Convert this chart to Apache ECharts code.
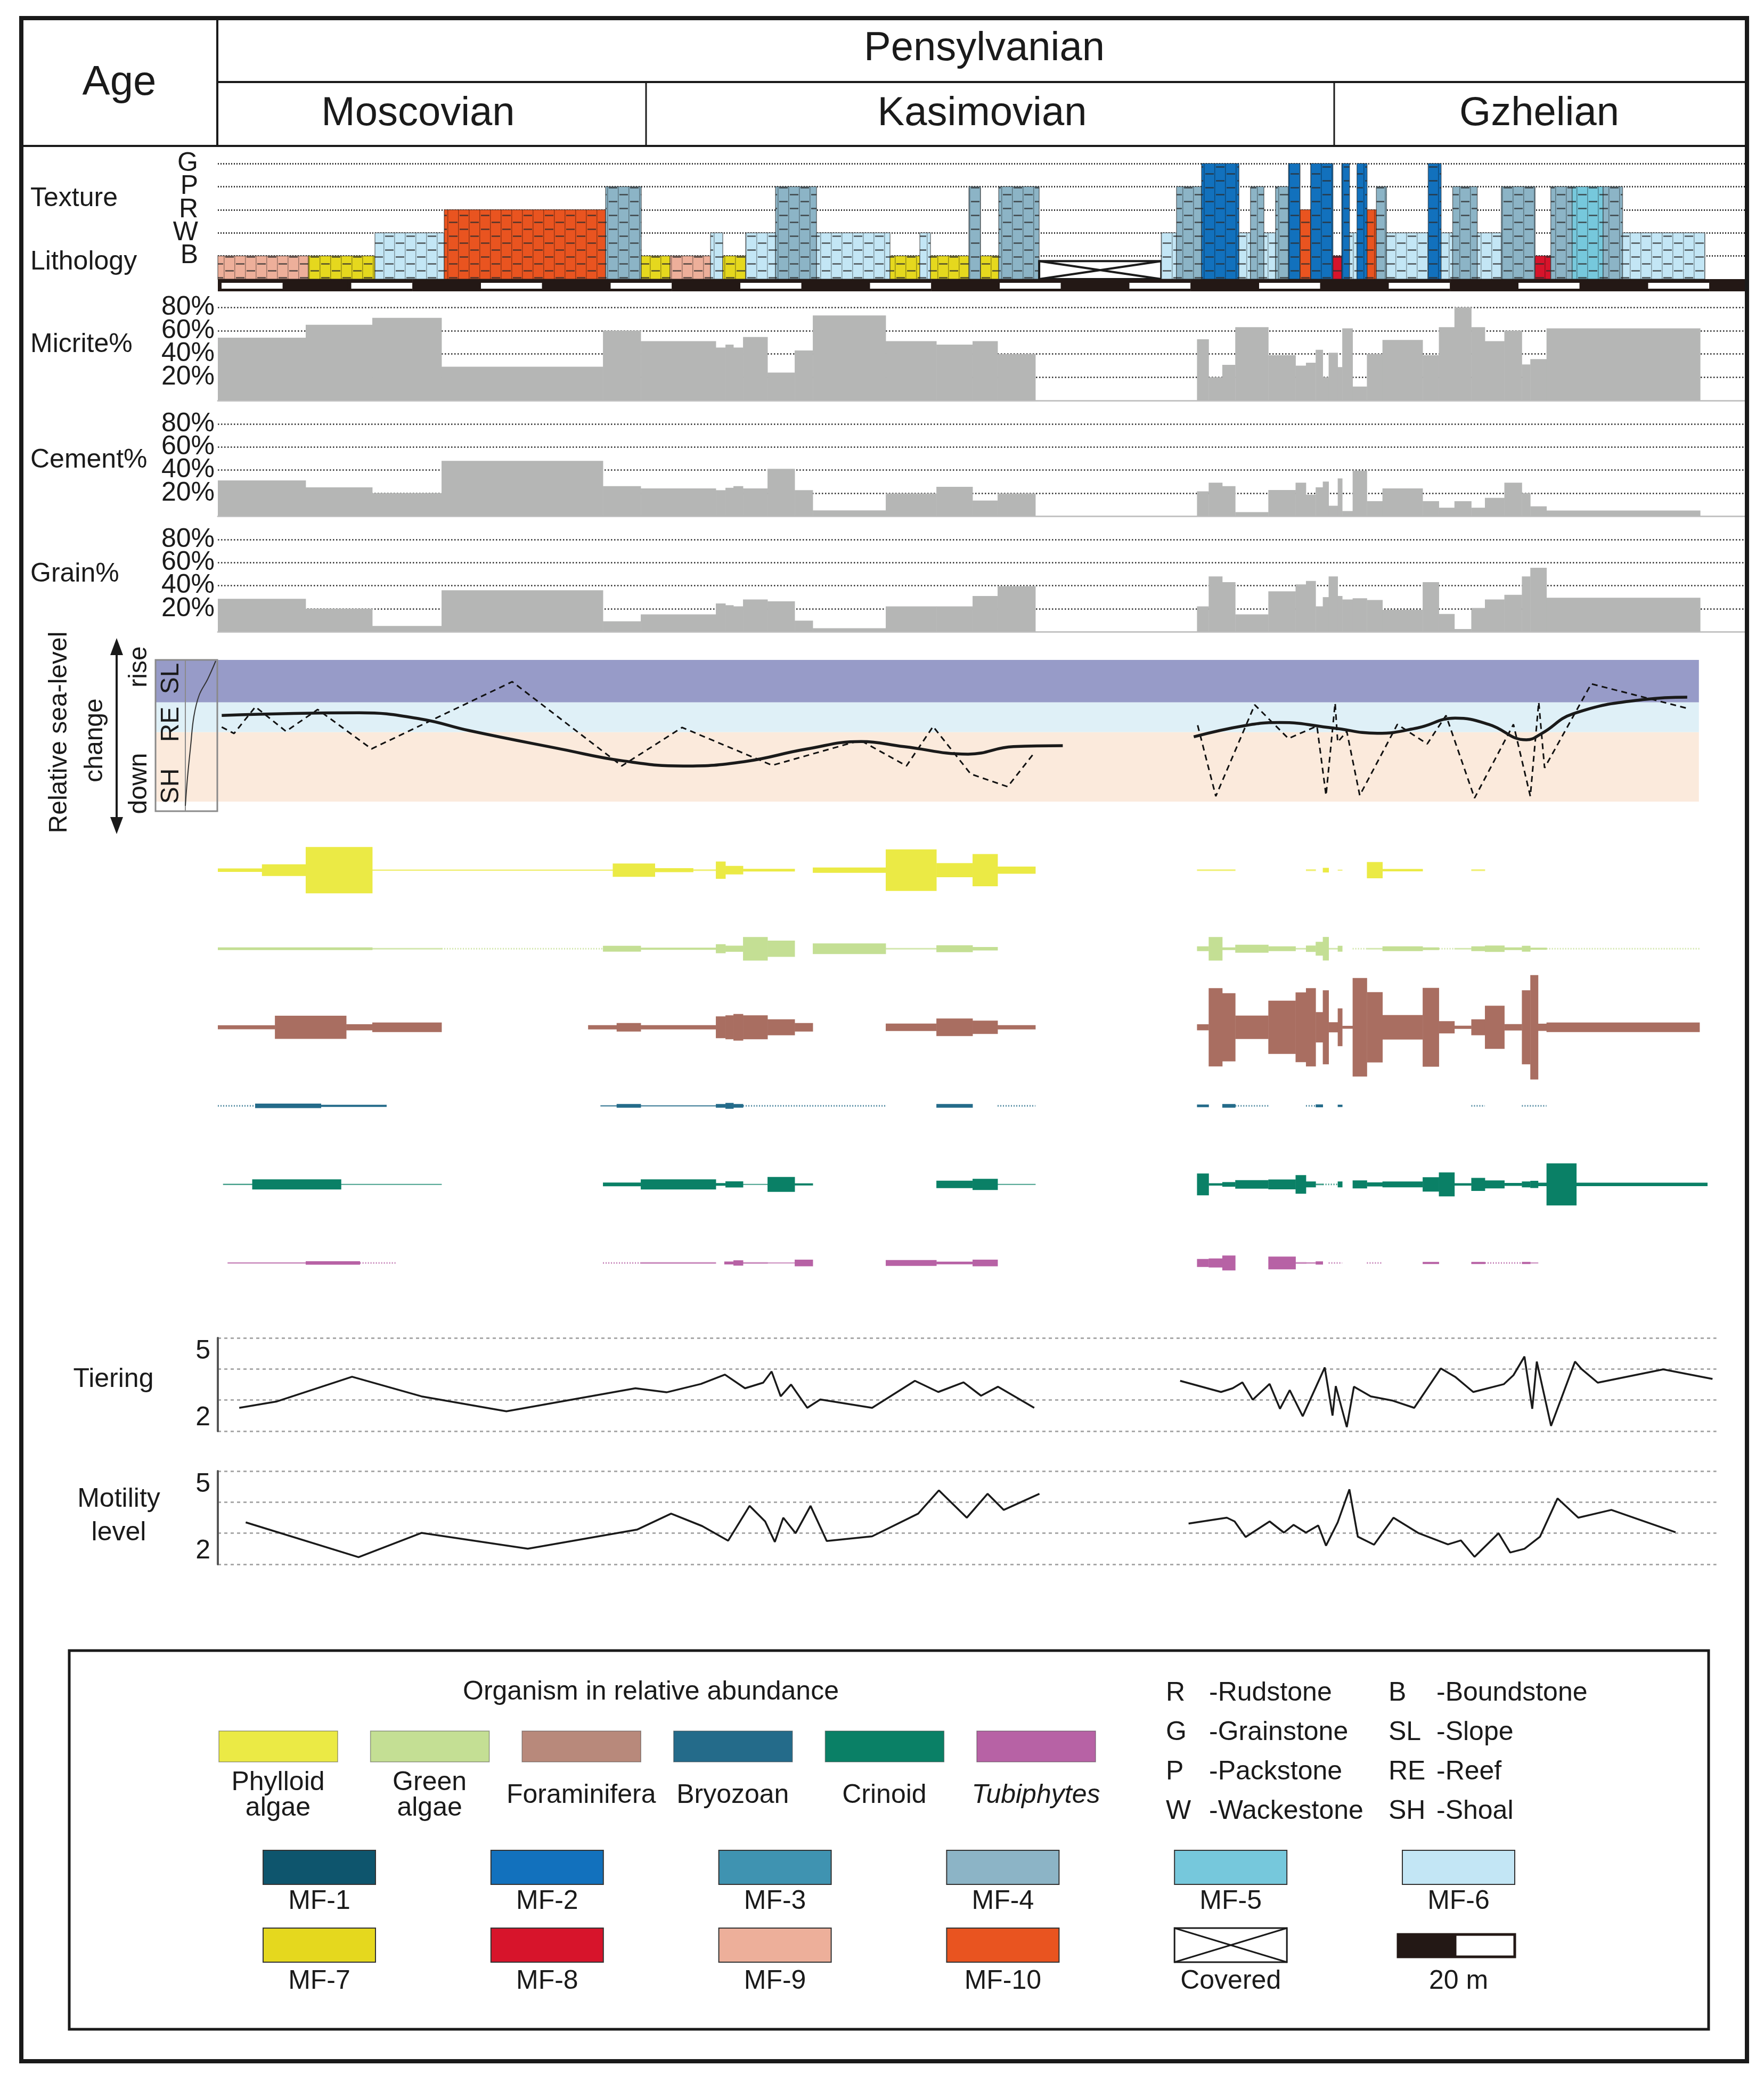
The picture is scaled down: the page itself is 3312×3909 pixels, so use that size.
<!DOCTYPE html>
<html>
<head>
<meta charset="utf-8">
<title>Pensylvanian section</title>
<script src="https://cdn.jsdelivr.net/npm/echarts@6.0.0/dist/echarts.min.js"></script>
<style>
html,body{margin:0;padding:0;background:#ffffff;}
#chart{width:3312px;height:3909px;}
</style>
</head>
<body>
<div id="chart"></div>
<script>
// ===================== DATA =====================
const periodName = 'Pensylvanian';
const stages = ['Moscovian', 'Kasimovian', 'Gzhelian'];
const textureLevels = ['B', 'W', 'R', 'P', 'G'];
const faciesNames = ['MF-1','MF-2','MF-3','MF-4','MF-5','MF-6','MF-7','MF-8','MF-9','MF-10'];

// lithology column: bed boundaries (m), microfacies and texture of each bed
const bedBounds = [0, 13.96, 24.23, 34.91, 59.80, 65.30, 69.74, 75.98, 77.87, 81.40, 86.00, 92.33, 103.66, 108.26, 109.90, 115.82, 117.62, 120.42, 126.66, 145.49, 147.84, 151.70, 157.47, 159.25, 161.32, 163.11, 165.11, 166.89, 168.53, 171.96, 173.32, 174.52, 175.67, 177.23, 178.66, 180.23, 186.65, 188.65, 190.43, 194.22, 197.93, 203.14, 205.56, 208.85, 213.63, 216.63, 229.33];
const bedFacies = ['MF-9','MF-7','MF-6','MF-10','MF-4','MF-7','MF-9','MF-6','MF-7','MF-6','MF-4','MF-6','MF-7','MF-6','MF-7','MF-4','MF-7','MF-4','Covered','MF-6','MF-4','MF-2','MF-6','MF-4','MF-6','MF-4','MF-2','MF-10','MF-2','MF-8','MF-2','MF-6','MF-2','MF-10','MF-4','MF-6','MF-2','MF-6','MF-4','MF-6','MF-4','MF-8','MF-4','MF-5','MF-4','MF-6'];
const bedTexture = ['B','B','W','R','P','B','B','W','B','W','P','W','B','W','B','P','B','P',null,'W','P','G','W','P','W','P','G','R','G','B','G','W','G','R','P','W','G','W','P','W','P','B','P','P','P','W'];

// sample intervals (m) for components
const sampleBoundsA = [0, 13.55, 23.82, 34.50, 59.39, 65.22, 76.80, 78.28, 79.51, 80.99, 84.77, 88.96, 91.75, 103.0, 110.81, 116.39, 120.25, 126.08];
const sampleBoundsB = [151.0, 152.8, 154.9, 156.9, 162.0, 166.2, 167.8, 169.3, 170.4, 171.3, 172.7, 173.4, 175.0, 177.2, 179.6, 185.8, 188.3, 190.7, 193.3, 195.4, 198.4, 201.1, 202.4, 204.9, 228.6];
const micriteA = [54, 65, 71, 29, 60, 51, 45.5, 48, 45.5, 54.5, 24, 43, 73, 51, 48, 51, 40];
const micriteB = [52.6, 20, 30.6, 63, 39, 30, 32.5, 43.6, 20, 41, 28.7, 62, 12, 40, 52, 39, 63, 80, 63, 51, 60, 31, 35.6, 62];
const cementA = [31, 25, 20, 48, 26, 24, 22.5, 24.6, 26, 24, 41, 22.5, 5, 19.6, 25.4, 13.5, 19.6];
const cementB = [21.5, 29, 26, 3.5, 22.7, 29, 18.6, 25, 30, 9, 32.7, 4.4, 39.4, 13, 24, 13, 7.3, 13, 7.3, 15.8, 29, 20, 8.5, 4.8];
const grainA = [28.5, 20, 5, 36, 9, 15, 24.5, 23, 22, 28, 26.4, 9.6, 3, 22, 22, 31, 39.5];
const grainB = [22, 48, 43, 15, 35, 41, 44, 22, 30, 48, 31, 28, 29, 27.5, 19, 43, 15.4, 2.3, 20.6, 28, 32, 48, 55.5, 29.5];

// relative sea level (0 = deepest shoal ... 100 = top of slope)
const envZones = [['SL', 70, 100], ['RE', 49, 70], ['SH', 0, 49]];
const zoneExtent = [-9.6, 228.4];
const seaLevelTrendA = [[0.6,60.8],[21.8,62.7],[31.3,58.3],[38.8,50.1],[53.0,37.0],[62.4,28.8],[71.8,25.1],[81.2,28.2],[90.7,37.0],[99.2,42.4],[105.8,38.8],[115.7,33.5],[122.7,38.8],[130.3,39.5]];
const seaLevelTrendB = [[150.5,45.7],[158.2,53.5],[163.7,55.8],[171.9,52.0],[178.8,48.2],[185.0,52.0],[190.8,58.9],[196.0,54.5],[201.8,43.6],[204.2,48.2],[209.0,62.0],[220.0,72.1],[226.6,73.7]];
const seaLevelRawA = [[0.6,52.6],[2.5,48.1],[5.8,66.9],[10.5,49.6],[15.4,65.0],[23.7,37.2],[45.4,84.6],[62.3,25.2],[71.6,52.3],[85.5,25.6],[99.1,43.2],[106.2,25.2],[110.3,53.0],[116.1,19.5],[121.8,10.5],[126.0,35.0]];
const seaLevelRawB = [[151.1,53.9],[153.9,3.8],[159.9,68.3],[165.1,44.5],[169.5,53.3],[170.9,4.4],[172.3,69.5],[172.7,42.0],[174.1,49.5],[176.1,4.4],[181.9,54.5],[186.5,40.7],[189.4,60.8],[193.8,2.5],[199.8,54.5],[202.4,3.8],[203.7,70.2],[204.6,23.8],[211.8,83.1],[226.9,65.5]];

// organisms: [from m, to m, relative abundance (% of row)]; 1 = trace
const organismNames = ['Phylloid\nalgae', 'Green\nalgae', 'Foraminifera', 'Bryozoan', 'Crinoid', 'Tubiphytes'];
const phylloidAlgae = [[0,6.8,4.4],[6.8,13.55,15],[13.55,23.82,59],[23.82,60.9,1.8],[60.9,67.4,17],[67.4,73.3,5.2],[73.3,76.8,2],[76.8,78.28,22],[78.28,80.99,11],[80.99,88.96,3.4],[91.75,103.0,6.8],[103.0,110.81,53],[110.81,116.39,18],[116.39,120.25,41],[120.25,126.08,9],[151.0,156.9,2.2],[167.8,169.3,2.2],[170.4,171.3,5.9],[172.7,173.4,1.4],[177.2,179.6,20.7],[179.6,185.8,3],[193.3,195.4,2.2]];
const greenAlgae = [[0,23.82,3.4],[23.82,34.5,2],[34.5,59.39,1],[59.39,65.22,7.5],[65.22,76.8,2.7],[76.8,78.28,11.5],[78.28,80.99,7.8],[80.99,84.77,30],[84.77,88.96,20.7],[91.75,103.0,13.6],[103.0,110.81,2],[110.81,116.39,8.8],[116.39,120.25,4.4],[151.0,152.8,6.1],[152.8,154.9,30],[154.9,156.9,3.4],[156.9,162.0,10.2],[162.0,166.2,6.1],[166.2,167.8,2],[167.8,169.3,8.1],[169.3,170.4,17.6],[170.4,171.3,30],[171.3,172.7,2],[172.7,173.4,7.5],[175.0,177.2,1],[177.2,179.6,2],[179.6,185.8,6.1],[185.8,188.3,3.4],[188.3,190.7,1],[190.7,193.3,2],[193.3,195.4,6.1],[195.4,198.4,8.1],[198.4,201.1,3.4],[201.1,202.4,7.5],[202.4,204.9,2.7],[204.9,228.5,1]];
const foraminifera = [[0,8.8,5.2],[8.8,19.8,29.6],[19.8,23.82,7.7],[23.82,34.5,12.2],[57.1,61.5,5.4],[61.5,65.22,10.8],[65.22,76.8,5.4],[76.8,78.28,27.8],[78.28,79.51,30.5],[79.51,80.99,33.9],[80.99,84.77,30.5],[84.77,88.96,20.3],[88.96,91.75,10.8],[103.0,110.81,9.5],[110.81,116.39,22.4],[116.39,120.25,17],[120.25,126.08,5.4],[151.0,152.8,7.7],[152.8,154.9,99.7],[154.9,156.9,86.8],[156.9,162.0,29.8],[162.0,166.2,67.8],[166.2,167.8,88.8],[167.8,169.3,99.7],[169.3,170.4,38.6],[170.4,171.3,94.2],[171.3,172.7,12.9],[172.7,173.4,48.1],[173.4,175.0,3.7],[175.0,177.2,125.4],[177.2,179.6,89.5],[179.6,185.8,31.2],[185.8,188.3,100.3],[188.3,190.7,15.6],[190.7,193.3,4.1],[193.3,195.4,20.3],[195.4,198.4,54.9],[198.4,201.1,8.1],[201.1,202.4,94.2],[202.4,203.6,132.9],[203.6,204.9,9.2],[204.9,228.5,12.2]];
const bryozoan = [[0,5.75,1],[5.75,15.9,5.9],[15.9,26.0,2.6],[59.0,61.5,1.8],[61.5,65.22,4.7],[65.22,76.8,1.8],[76.8,78.28,4.7],[78.28,79.51,7.5],[79.51,80.99,4.7],[80.99,103.0,1],[110.81,116.39,4.7],[120.25,126.08,1],[151.0,152.8,3.4],[154.9,156.9,4.7],[156.9,162.0,1],[167.8,169.3,1],[169.3,170.4,3.7],[172.7,173.4,3],[193.3,195.4,1],[201.1,204.9,1]];
const crinoid = [[0.8,5.3,1.8],[5.3,19.0,12.9],[19.0,34.5,1.4],[59.39,65.22,4.7],[65.22,76.8,12.9],[76.8,78.28,3.4],[78.28,80.99,7.8],[80.99,84.77,1.4],[84.77,88.96,19],[88.96,91.75,2.7],[110.81,116.39,9.5],[116.39,120.25,14.2],[120.25,126.08,1.4],[151.0,152.8,27.8],[152.8,154.9,3],[154.9,156.9,5.9],[156.9,162.0,10.8],[162.0,166.2,12.5],[166.2,167.8,23.7],[167.8,169.3,7.5],[169.3,170.4,2],[170.4,172.7,1],[172.7,173.4,7.5],[175.0,177.2,10.2],[177.2,179.6,5.2],[179.6,185.8,7.5],[185.8,188.3,18.3],[188.3,190.7,30.5],[190.7,193.3,3],[193.3,195.4,16.6],[195.4,198.4,10.2],[198.4,201.1,3.7],[201.1,202.4,7.5],[202.4,203.6,9.2],[203.6,204.9,4.4],[204.9,209.5,53.6],[209.5,229.7,4.4]];
const tubiphytes = [[1.5,13.55,1.8],[13.55,21.9,4.4],[21.9,27.4,1],[59.39,65.22,1],[65.22,76.8,2.2],[78.1,79.51,3.7],[79.51,80.99,6.8],[80.99,84.77,2.2],[84.77,88.96,1.4],[88.96,91.75,8.5],[103.0,110.81,7.5],[110.81,116.39,3.4],[116.39,120.25,8.5],[151.0,152.8,10.2],[152.8,154.9,11.5],[154.9,156.9,19],[162.0,166.2,16.3],[166.2,167.8,2.2],[167.8,169.3,1.8],[169.3,170.4,4.1],[171.3,173.4,1],[177.2,179.6,1],[185.8,188.3,2.7],[193.3,195.4,2.7],[195.4,201.1,1],[201.1,202.4,2.7],[202.4,203.6,1.4]];
const organismRanges = [phylloidAlgae, greenAlgae, foraminifera, bryozoan, crinoid, tubiphytes];

// tiering and motility level
const tieringA = [[3.3,2.75],[9.0,2.95],[20.7,3.75],[31.4,3.12],[44.5,2.64],[64.4,3.38],[69.2,3.25],[74.5,3.52],[78.2,3.82],[81.3,3.38],[84.1,3.56],[85.4,3.92],[86.8,3.12],[88.4,3.50],[90.9,2.75],[92.9,3.02],[100.9,2.75],[107.5,3.62],[111.1,3.26],[115.0,3.57],[117.7,3.14],[120.3,3.43],[125.9,2.75]];
const tieringB = [[148.4,3.62],[154.7,3.26],[156.5,3.38],[158.0,3.57],[159.6,3.01],[162.2,3.52],[163.8,2.72],[165.3,3.32],[167.3,2.48],[170.7,4.05],[171.9,2.50],[172.4,3.45],[174.1,2.13],[175.2,3.43],[177.8,3.12],[181.2,2.98],[184.5,2.75],[188.6,4.02],[190.8,3.75],[193.6,3.26],[198.3,3.51],[199.8,3.80],[201.5,4.40],[202.7,2.72],[203.4,4.24],[205.6,2.17],[209.3,4.24],[210.3,4.00],[212.8,3.56],[222.9,3.99],[230.5,3.68]];
const motilityA = [[4.3,3.35],[21.7,2.23],[31.4,3.01],[47.8,2.50],[64.7,3.12],[69.9,3.63],[74.7,3.23],[78.7,2.76],[82.0,3.88],[84.4,3.38],[85.9,2.72],[87.2,3.50],[89.1,3.00],[91.4,3.88],[93.9,2.75],[100.9,2.90],[108.0,3.63],[111.2,4.38],[115.5,3.50],[118.7,4.27],[121.2,3.75],[126.7,4.27]];
const motilityB = [[149.7,3.31],[155.6,3.50],[156.8,3.38],[158.5,2.88],[162.2,3.38],[164.4,3.02],[165.9,3.27],[167.8,3.02],[169.7,3.25],[170.9,2.60],[172.7,3.35],[174.5,4.41],[175.8,2.89],[178.3,2.63],[181.3,3.50],[185.2,3.00],[189.7,2.64],[191.7,2.77],[193.8,2.24],[197.5,3.00],[199.3,2.38],[201.5,2.50],[203.9,2.89],[206.6,4.12],[209.8,3.50],[214.9,3.75],[224.8,3.03]];

// scale bar: alternating 10 m units
const scaleBarStep = 10;
const scaleBarTicks = [0,10,20,30,40,50,60,70,80,90,100,110,120,130,140,150,160,170,180,190,200,210,220,230];

// legend keys
const textureKey = [['R','-Rudstone'],['G','-Grainstone'],['P','-Packstone'],['W','-Wackestone']];
const settingKey = [['B','-Boundstone'],['SL','-Slope'],['RE','-Reef'],['SH','-Shoal']];

// ===================== STYLE =====================
const FONT = '"Liberation Sans", Arial, Helvetica, sans-serif';
const INK = '#1a1a1a';
const faciesColors = ['#0E556D','#1271BD','#3F93B1','#8CB4C6','#76C8DC','#C3E6F5','#E5D81E','#D7142B','#EDAF9A','#E95420'];
const organismColors = ['#EBEA45','#C4DF94','#A96E61','#246B8A','#0A8066','#B762A5'];
const organismLegendColors = ['#EBEA45','#C4DF94','#B8897B','#246B8A','#0A8066','#B762A5'];
const zoneColors = {SL:'#979BC8', RE:'#DFF0F7', SH:'#FBEADC'};
const GREY = '#B5B6B5';
const COVER_LEVEL = 0.78;

function brick(color){
  const cw = 20, rh = 26, c = document.createElement('canvas');
  c.width = cw * 2; c.height = rh;
  const g = c.getContext('2d');
  g.fillStyle = color; g.fillRect(0, 0, c.width, c.height);
  g.strokeStyle = 'rgba(0,0,0,0.35)'; g.lineWidth = 1.5;
  g.beginPath(); g.moveTo(0.75, 0); g.lineTo(0.75, rh); g.moveTo(cw + 0.75, 0); g.lineTo(cw + 0.75, rh); g.stroke();
  g.strokeStyle = 'rgba(45,45,45,0.8)'; g.lineWidth = 2.5;
  g.beginPath(); g.moveTo(3, 1.5); g.lineTo(cw - 1, 1.5); g.moveTo(cw + 3, rh / 2 + 1.5); g.lineTo(2 * cw - 1, rh / 2 + 1.5); g.stroke();
  return {image: c, repeat: 'repeat'};
}
const faciesPatterns = faciesColors.map(brick);

// ===================== LAYOUT =====================
const LEFT = 409, PX_PER_M = 12.175, X_END = 235.5, PANEL_END = 231.1;
const panels = [
  {top: 307, height: 217, xmin: 0, xmax: X_END},    // 0 texture
  {top: 524, height: 23, xmin: 0, xmax: X_END},     // 1 scale bar
  {top: 577, height: 175, xmin: 0, xmax: X_END},    // 2 micrite
  {top: 796, height: 173, xmin: 0, xmax: X_END},    // 3 cement
  {top: 1013, height: 173, xmin: 0, xmax: X_END},   // 4 grain
  {top: 1239, height: 266, xmin: -9.6, xmax: X_END},// 5 sea level
  {top: 1560, height: 885, xmin: 0, xmax: X_END},   // 6 organisms
  {top: 2512, height: 175, xmin: 0, xmax: PANEL_END}, // 7 tiering
  {top: 2762, height: 175, xmin: 0, xmax: PANEL_END}  // 8 motility
];
const grid = panels.map(p => ({
  left: LEFT + p.xmin * PX_PER_M, top: p.top,
  width: (p.xmax - p.xmin) * PX_PER_M, height: p.height,
  containLabel: false, outerBoundsMode: 'none'
}));
const xAxis = panels.map((p, i) => ({
  type: 'value', gridIndex: i, min: p.xmin, max: p.xmax,
  axisLabel: {show: false}, axisTick: {show: false}, splitLine: {show: false},
  axisLine: {show: i >= 2 && i <= 4, onZero: false, lineStyle: {color: '#c4c4c4', width: 3}}
}));

// y axes: close tick labels are split over two overlaid axes (alternating labels),
// so none of them is dropped by the min/max overlap check.
const yAxis = [];
const Y = {};
function addY(key, cfg){ Y[key] = yAxis.length; yAxis.push(cfg); }
const labelBase = {fontSize: 50, fontFamily: FONT, color: INK};
const dottedLine = {show: true, showMinLine: false, lineStyle: {color: '#2a2a2a', width: 2.5, type: [2.5, 3.5]}};
function stackedLabelAxes(key, gi, min, max, interval, fmt, margin, split){
  [0, 1].forEach(parity => {
    addY(key + parity, {
      type: 'value', gridIndex: gi, min, max, interval, position: 'left',
      axisLine: {show: false}, axisTick: {show: false},
      axisLabel: Object.assign({}, labelBase, {margin, showMaxLabel: true, showMinLabel: true,
        formatter: v => (Math.round((v - min) / interval) % 2 === parity) ? fmt(v) : ''}),
      splitLine: parity === 0 ? split : {show: false}
    });
  });
}
stackedLabelAxes('tex', 0, 0, 5, 1, v => textureLevels[v - 1] || '', 37,
  {show: true, showMinLine: false, lineStyle: {color: '#2a2a2a', width: 3, type: [2, 3]}});
addY('scale', {type: 'value', gridIndex: 1, min: 0, max: 1, show: false});
stackedLabelAxes('mic', 2, 0, 80, 20, v => v ? v + '%' : '', 6, dottedLine);
stackedLabelAxes('cem', 3, 0, 80, 20, v => v ? v + '%' : '', 6, dottedLine);
stackedLabelAxes('gra', 4, 0, 80, 20, v => v ? v + '%' : '', 6, dottedLine);
addY('sea', {type: 'value', gridIndex: 5, min: 0, max: 100, show: false});
addY('org', {type: 'category', gridIndex: 6, data: organismNames, inverse: true, show: false});
const lvlAxis = gi => ({
  type: 'value', gridIndex: gi, min: 2, max: 5, interval: 1,
  axisLine: {show: true, lineStyle: {color: '#555', width: 4}}, axisTick: {show: false},
  axisLabel: Object.assign({}, labelBase, {formatter: v => (v === 2 || v === 5) ? String(v) : '', margin: 14,
              showMaxLabel: true, showMinLabel: true, verticalAlignMinLabel: 'bottom', verticalAlignMaxLabel: 'top'}),
  splitLine: {show: true, lineStyle: {color: '#a9a9a9', width: 3, type: [6, 6]}}
});
addY('tier', lvlAxis(7));
addY('mot', lvlAxis(8));

// ===================== SERIES =====================
const textureData = bedFacies.map((f, i) => [bedBounds[i], bedBounds[i + 1],
  bedTexture[i] ? textureLevels.indexOf(bedTexture[i]) + 1 : 0, faciesNames.indexOf(f)]);

function renderTexture(params, api){
  const x0 = api.value(0), x1 = api.value(1), lvl = api.value(2), fi = api.value(3);
  if (fi < 0) {
    const a = api.coord([x0, 0]), b = api.coord([x1, COVER_LEVEL]);
    const x = a[0], y = b[1], w = b[0] - a[0], h = a[1] - b[1];
    return {type: 'group', children: [
      {type: 'rect', shape: {x, y, width: w, height: h}, style: {fill: '#fff', stroke: INK, lineWidth: 4}},
      {type: 'line', shape: {x1: x, y1: y, x2: x + w, y2: y + h}, style: {stroke: INK, lineWidth: 4}},
      {type: 'line', shape: {x1: x, y1: y + h, x2: x + w, y2: y}, style: {stroke: INK, lineWidth: 4}}
    ]};
  }
  const a = api.coord([x0, 0]), b = api.coord([x1, lvl]);
  return {type: 'rect', shape: {x: a[0], y: b[1], width: b[0] - a[0], height: a[1] - b[1]},
          style: {fill: faciesPatterns[fi], stroke: 'rgba(30,30,30,0.55)', lineWidth: 1.5}};
}

function renderScale(params, api){
  const s = api.value(0), e = api.value(1), odd = api.value(2);
  const a = api.coord([s, 0]), b = api.coord([e, 1]);
  const x = a[0], y = b[1], w = b[0] - a[0], h = a[1] - b[1];
  const kids = [{type: 'rect', shape: {x, y, width: w + 0.5, height: h}, style: {fill: '#231815'}}];
  if (!odd) kids.push({type: 'rect', shape: {x: x + 7, y: y + 7, width: w - 7, height: h - 12}, style: {fill: '#fff'}});
  return {type: 'group', children: kids};
}

const sampleIntervals = [];
[sampleBoundsA, sampleBoundsB].forEach(b => { for (let i = 0; i < b.length - 1; i++) sampleIntervals.push([b[i], b[i + 1]]); });
function pctSeries(gi, yi, values){
  return {
    type: 'custom', xAxisIndex: gi, yAxisIndex: yi, silent: true,
    data: sampleIntervals.map((iv, i) => [iv[0], iv[1], values[i]]),
    encode: {x: [0, 1], y: 2},
    renderItem: (params, api) => {
      const a = api.coord([api.value(0), 0]), b = api.coord([api.value(1), api.value(2)]);
      return {type: 'rect', shape: {x: a[0], y: b[1], width: b[0] - a[0] + 0.4, height: a[1] - b[1]}, style: {fill: GREY}};
    }
  };
}

function organismSeries(i){
  const color = organismColors[i];
  return {
    type: 'custom', xAxisIndex: 6, yAxisIndex: Y.org, silent: true, clip: false,
    data: organismRanges[i].map(s => [s[0], s[1], i, s[2]]),
    encode: {x: [0, 1], y: 2},
    renderItem: (params, api) => {
      const x0 = api.value(0), x1 = api.value(1), row = api.value(2), ab = api.value(3);
      const p0 = api.coord([x0, row]), p1 = api.coord([x1, row]);
      const band = api.size([0, 1])[1];
      if (ab <= 1) {
        return {type: 'line', shape: {x1: p0[0], y1: p0[1], x2: p1[0], y2: p1[1]},
                style: {stroke: color, lineWidth: 3, lineDash: [2, 3], opacity: 0.8}};
      }
      const h = Math.max(band * ab / 100, 2);
      return {type: 'rect', shape: {x: p0[0], y: p0[1] - h / 2, width: p1[0] - p0[0] + 0.4, height: h},
              style: {fill: color, opacity: ab < 2.5 ? 0.75 : 1}};
    }
  };
}

const lineBase = {type: 'line', showSymbol: false, silent: true, animation: false};
const series = [
  {type: 'custom', xAxisIndex: 0, yAxisIndex: Y.tex0, silent: true, clip: false, data: textureData, encode: {x: [0, 1], y: 2}, renderItem: renderTexture},
  {type: 'custom', xAxisIndex: 1, yAxisIndex: Y.scale, silent: true, clip: true,
   data: scaleBarTicks.map((t, i) => [t, t + scaleBarStep, i % 2]), encode: {x: [0, 1]}, renderItem: renderScale},
  pctSeries(2, Y.mic0, micriteA.concat(micriteB)),
  pctSeries(3, Y.cem0, cementA.concat(cementB)),
  pctSeries(4, Y.gra0, grainA.concat(grainB)),
  Object.assign({}, lineBase, {xAxisIndex: 5, yAxisIndex: Y.sea, data: seaLevelRawA, z: 4,
    lineStyle: {color: '#111', width: 3, type: [11, 8]},
    markArea: {silent: true, z: 1, label: {show: false},
      data: envZones.map(z => [{xAxis: zoneExtent[0], yAxis: z[1], itemStyle: {color: zoneColors[z[0]], opacity: 1}}, {xAxis: zoneExtent[1], yAxis: z[2]}])}}),
  Object.assign({}, lineBase, {xAxisIndex: 5, yAxisIndex: Y.sea, data: seaLevelRawB, z: 4, lineStyle: {color: '#111', width: 3, type: [11, 8]}}),
  Object.assign({}, lineBase, {xAxisIndex: 5, yAxisIndex: Y.sea, data: seaLevelTrendA, z: 5, smooth: 0.45, lineStyle: {color: '#1a1a1a', width: 5.5}}),
  Object.assign({}, lineBase, {xAxisIndex: 5, yAxisIndex: Y.sea, data: seaLevelTrendB, z: 5, smooth: 0.45, lineStyle: {color: '#1a1a1a', width: 5.5}}),
  organismSeries(0), organismSeries(1), organismSeries(2), organismSeries(3), organismSeries(4), organismSeries(5),
  Object.assign({}, lineBase, {xAxisIndex: 7, yAxisIndex: Y.tier, data: tieringA, lineStyle: {color: INK, width: 3.5}}),
  Object.assign({}, lineBase, {xAxisIndex: 7, yAxisIndex: Y.tier, data: tieringB, lineStyle: {color: INK, width: 3.5}}),
  Object.assign({}, lineBase, {xAxisIndex: 8, yAxisIndex: Y.mot, data: motilityA, lineStyle: {color: INK, width: 3.5}}),
  Object.assign({}, lineBase, {xAxisIndex: 8, yAxisIndex: Y.mot, data: motilityB, lineStyle: {color: INK, width: 3.5}})
];

// ===================== GRAPHIC (table, labels, legend) =====================
const els = [];
function txt(x, y, text, st, rot){
  els.push({type: 'text', x, y, z: 60, rotation: rot || 0,
    style: Object.assign({text, fill: INK, fontSize: 50, fontFamily: FONT, align: 'left', verticalAlign: 'middle'}, st || {})});
}
function ln(x1, y1, x2, y2, w, c){
  els.push({type: 'line', z: 60, shape: {x1, y1, x2, y2}, style: {stroke: c || INK, lineWidth: w}});
}
function box(x, y, w, h, fill, stroke, lw){
  els.push({type: 'rect', z: 58, shape: {x, y, width: w, height: h}, style: {fill: fill, stroke: stroke || null, lineWidth: lw || 0}});
}
// frame & header table
box(40, 34, 3240, 3836, 'rgba(0,0,0,0)', INK, 8);
ln(408, 34, 408, 274, 4);
ln(408, 154, 3280, 154, 4);
ln(40, 274, 3280, 274, 4);
ln(1213, 154, 1213, 274, 3);
ln(2505, 154, 2505, 274, 3);
txt(224, 156, 'Age', {fontSize: 78, align: 'center'});
txt(1848, 92, periodName, {fontSize: 76, align: 'center'});
[785, 1844, 2890].forEach((x, i) => txt(x, 214, stages[i], {fontSize: 76, align: 'center'}));
// row labels
txt(57, 373, 'Texture');
txt(57, 492, 'Lithology');
txt(57, 647, 'Micrite%');
txt(57, 864, 'Cement%');
txt(57, 1078, 'Grain%');
// sea-level labels
const R90 = Math.PI / 2;
txt(112, 1375, 'Relative sea-level', {align: 'center', fontSize: 48}, R90);
txt(179, 1390, 'change', {align: 'center', fontSize: 48}, R90);
txt(262, 1252, 'rise', {align: 'center', fontSize: 48}, R90);
txt(262, 1471, 'down', {align: 'center', fontSize: 48}, R90);
ln(219, 1220, 219, 1545, 4);
els.push({type: 'polygon', z: 60, shape: {points: [[219, 1198], [207, 1230], [231, 1230]]}, style: {fill: INK}});
els.push({type: 'polygon', z: 60, shape: {points: [[219, 1566], [207, 1534], [231, 1534]]}, style: {fill: INK}});
// key box of depositional settings
box(292, 1239, 116, 284, 'rgba(0,0,0,0)', '#8a8a8a', 3);
ln(348, 1239, 348, 1523, 2, '#8a8a8a');
els.push({type: 'polyline', z: 60, shape: {points: [[348, 1513], [352, 1460], [358, 1400], [364, 1345], [374, 1305], [390, 1275], [405, 1241]], smooth: 0.4},
          style: {stroke: '#333', lineWidth: 2, fill: null}});
txt(322, 1274, 'SL', {align: 'center', fontSize: 48}, R90);
txt(322, 1360, 'RE', {align: 'center', fontSize: 48}, R90);
txt(322, 1476, 'SH', {align: 'center', fontSize: 48}, R90);
// tiering / motility labels
txt(213, 2590, 'Tiering', {align: 'center'});
txt(223, 2815, 'Motility', {align: 'center'});
txt(223, 2878, 'level', {align: 'center'});

// legend
box(130, 3099, 3078, 711, 'rgba(0,0,0,0)', INK, 5);
txt(1222, 3177, 'Organism in relative abundance', {align: 'center'});
organismNames.forEach((n, i) => {
  const x = 411 + i * 284.6;
  box(x, 3250, 223, 58, organismLegendColors[i], 'rgba(60,60,60,0.5)', 1.5);
  txt(x + 111, 3371, n, {align: 'center', lineHeight: 48, fontStyle: i === 5 ? 'italic' : 'normal'});
});
textureKey.forEach((k, i) => {
  const y = 3179 + i * 74;
  txt(2189, y, k[0]);
  txt(2270, y, k[1]);
  txt(2607, y, settingKey[i][0]);
  txt(2697, y, settingKey[i][1]);
});
const legendCells = faciesNames.concat(['Covered', '20 m']);
legendCells.forEach((n, i) => {
  const col = i % 6, row = Math.floor(i / 6);
  const x = 494 + col * 427.8, y = row ? 3620 : 3474, w = 211, h = 64;
  if (i < faciesNames.length) {
    box(x, y, w, h, faciesColors[i], '#333', 2);
  } else if (n === 'Covered') {
    box(x, y, w, h, '#fff', INK, 3);
    ln(x, y, x + w, y + h, 3);
    ln(x, y + h, x + w, y, 3);
  } else {
    box(x - 8, y + 12, w + 8, 42, '#fff', '#231815', 5);
    box(x - 8, y + 12, (w + 8) / 2, 42, '#231815');
  }
  txt(x + w / 2, y + (row ? 100 : 96), n, {align: 'center'});
});

// ===================== CHART =====================
const chart = echarts.init(document.getElementById('chart'), null, {renderer: 'canvas', width: 3312, height: 3909});
chart.setOption({
  animation: false,
  backgroundColor: '#ffffff',
  grid: grid,
  xAxis: xAxis,
  yAxis: yAxis,
  series: series,
  graphic: {elements: els}
});
</script>
</body>
</html>
